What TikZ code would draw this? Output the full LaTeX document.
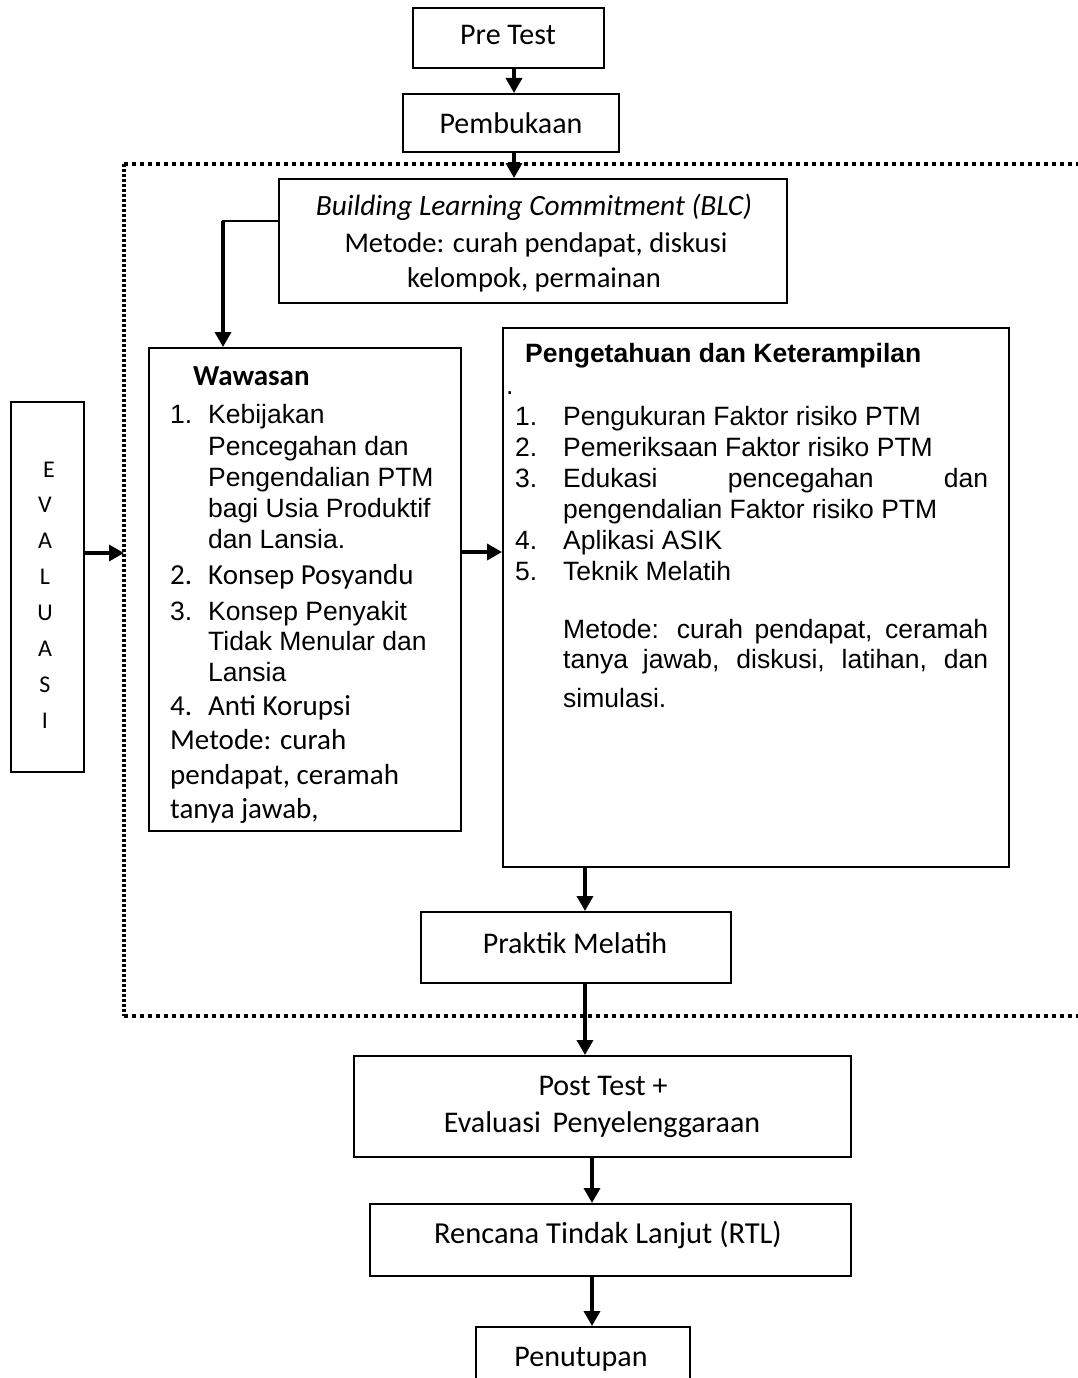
\documentclass[tikz,border=0pt]{standalone}
\usepackage{fontspec}
\setmainfont{Carlito}
\newfontfamily\arialf{Liberation Sans}
\usetikzlibrary{arrows.meta}
\newcommand{\fcal}{\fontsize{30}{35}\selectfont}
\newcommand{\fcalr}{\fontsize{30.5}{35}\selectfont}
\newcommand{\fcalb}{\fontsize{28.6}{35}\selectfont}
\newcommand{\fcali}{\fontsize{29.4}{35}\selectfont}
\newcommand{\fcala}{\fontsize{29}{35}\selectfont}
\newcommand{\fari}{\arialf\fontsize{26.5}{31}\selectfont}
\newcommand{\fevl}{\fontsize{24}{30}\selectfont}
\begin{document}
\begin{tikzpicture}[x=1pt,y=-1pt,
  box/.style={draw=black,line width=2pt,inner sep=0pt,fill=none},
  arr/.style={line width=3.4pt,-{Triangle[length=15pt,width=16pt]}},
  lnk/.style={line width=2.2pt},
  dotsh/.style={line width=3.4pt,dash pattern=on 4pt off 4pt},
  dotsv/.style={line width=3.4pt,dash pattern=on 2.8pt off 2.2pt},
  tb/.style={inner sep=0pt,anchor=base},
  tl/.style={inner sep=0pt,anchor=base west}]
\useasboundingbox (0,0) rectangle (1078,1378);
\fill[white] (0,0) rectangle (1078,1378);

% dotted frame
\coordinate (fTL) at (124,164);
\coordinate (fTR) at (1078,164);
\coordinate (fBL) at (124,1016);
\coordinate (fBR) at (1078,1016);
\draw[dotsh] (fTL) -- (fTR);
\draw[dotsh] (fBL) -- (fBR);
\draw[dotsv] (fTL) -- (fBL);

% boxes
\node[box,minimum width=191,minimum height=60] (pre) at (508.5,38) {};
\node[box,minimum width=216,minimum height=58] (pemb) at (511,123) {};
\node[box,minimum width=508,minimum height=124] (blc) at (533,241) {};
\node[box,minimum width=312,minimum height=483] (waw) at (305,589.5) {};
\node[box,minimum width=506,minimum height=539] (pk) at (756,597.5) {};
\node[box,minimum width=73,minimum height=370] (ev) at (47.5,587) {};
\node[box,minimum width=310,minimum height=71] (pr) at (576,947.5) {};
\node[box,minimum width=497,minimum height=101] (post) at (602.5,1106.5) {};
\node[box,minimum width=481,minimum height=72] (rtl) at (610.5,1240) {};
\node[box,minimum width=214,minimum height=83] (pen) at (583,1368.5) {};

% texts
\node[tb] (tpre) at (508,45) {\fcal Pre Test};
\node[tb] (tpemb) at (511,133) {\fcal Pembukaan};
\node[tb] (tblc1) at (534,215) {\fcali\itshape Building Learning Commitment (BLC)};
\node[tb] (tblc2) at (536,252) {\fcalb Metode: curah pendapat, diskusi};
\node[tb] (tblc3) at (534,287) {\fcalb kelompok, permainan};

\node[tl] (wt) at (193,385) {\fcala\bfseries Wawasan};
\node[tl] (wn1) at (170,423) {\fari 1.};
\node[tl] (w1a) at (208,423) {\fari Kebijakan};
\node[tl] (w1b) at (208,455) {\fari Pencegahan dan};
\node[tl] (w1c) at (208,486) {\fari Pengendalian PTM};
\node[tl] (w1d) at (208,517) {\fari bagi Usia Produktif};
\node[tl] (w1e) at (208,548) {\fari dan Lansia.};
\node[tl] (wn2) at (170,584) {\fcala 2.};
\node[tl] (w2) at (208,584) {\fcala Konsep Posyandu};
\node[tl] (wn3) at (170,620) {\fari 3.};
\node[tl] (w3a) at (208,620) {\fari Konsep Penyakit};
\node[tl] (w3b) at (208,650) {\fari Tidak Menular dan};
\node[tl] (w3c) at (208,681) {\fari Lansia};
\node[tl] (wn4) at (170,715) {\fcala 4.};
\node[tl] (w4) at (208,715) {\fcala Anti Korupsi};
\node[tl] (wm1) at (170,749) {\fcala Metode: curah};
\node[tl] (wm2) at (170,784) {\fcala pendapat, ceramah};
\node[tl] (wm3) at (170,818) {\fcala tanya jawab,};

\node[tl] (pt) at (525,362) {\fari\bfseries Pengetahuan dan Keterampilan};
\node[tl] (pdot) at (506,394) {\fari .};
\node[tl] (pn1) at (515,425) {\fari 1.};
\node[tl] (p1) at (563,425) {\fari Pengukuran Faktor risiko PTM};
\node[tl] (pn2) at (515,456) {\fari 2.};
\node[tl] (p2) at (563,456) {\fari Pemeriksaan Faktor risiko PTM};
\node[tl] (pn3) at (515,487) {\fari 3.};
\node[tl] (p3a) at (563,487) {\fari\makebox[425pt][s]{Edukasi pencegahan dan}};
\node[tl] (p3b) at (563,518) {\fari pengendalian Faktor risiko PTM};
\node[tl] (pn4) at (515,549) {\fari 4.};
\node[tl] (p4) at (563,549) {\fari Aplikasi ASIK};
\node[tl] (pn5) at (515,580) {\fari 5.};
\node[tl] (p5) at (563,580) {\fari Teknik Melatih};
\node[tl] (pm1) at (563,638) {\fari\makebox[425pt][s]{Metode: curah pendapat, ceramah}};
\node[tl] (pm2) at (563,668) {\fari\makebox[425pt][s]{tanya jawab, diskusi, latihan, dan}};
\node[tl] (pm3) at (563,707) {\fari simulasi.};

\node[tb] (e1) at (49,477) {\fevl E};
\node[tb] (e2) at (45,512) {\fevl V};
\node[tb] (e3) at (45,548) {\fevl A};
\node[tb] (e4) at (45,584) {\fevl L};
\node[tb] (e5) at (45,620) {\fevl U};
\node[tb] (e6) at (45,656) {\fevl A};
\node[tb] (e7) at (45,692) {\fevl S};
\node[tb] (e8) at (45,728) {\fevl I};

\node[tb] (tpr) at (575,953) {\fcal Praktik Melatih};
\node[tb] (tpost1) at (603,1095) {\fcal Post Test +};
\node[tb] (tpost2) at (602,1132) {\fcal Evaluasi\hspace{5pt} Penyelenggaraan};
\node[tb] (trtl) at (608,1243) {\fcalr Rencana Tindak Lanjut (RTL)};
\node[tb] (tpen) at (581,1366) {\fcal Penutupan};

% connectors
\coordinate (xa) at (514,0);
\coordinate (xb) at (585,0);
\coordinate (xc) at (592,0);
\coordinate (bend) at (223,221);
\coordinate (ya) at (0,552);
\coordinate (fr) at (124,553);

\draw[arr] (pre.south -| xa) -- (pemb.north -| xa);
\draw[arr] (pemb.south -| xa) -- (blc.north -| xa);
\draw[lnk] (blc.west |- bend) -- ([xshift=-1.2pt]bend);
\draw[arr] (bend) -- (waw.north -| bend);
\draw[arr] (waw.east |- ya) -- (pk.west |- ya);
\draw[arr] (ev.east |- fr) -- (fr);
\draw[arr] (pk.south -| xb) -- (pr.north -| xb);
\draw[arr] (pr.south -| xb) -- (post.north -| xb);
\draw[arr] (post.south -| xc) -- (rtl.north -| xc);
\draw[arr] (rtl.south -| xc) -- (pen.north -| xc);
\end{tikzpicture}
\end{document}
